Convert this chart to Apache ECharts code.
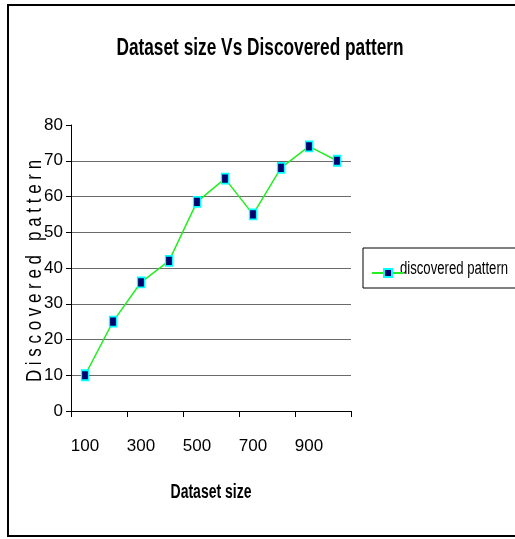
<!DOCTYPE html>
<html>
<head>
<meta charset="utf-8">
<script src="https://cdn.jsdelivr.net/npm/echarts@6/dist/echarts.min.js"></script>
<style>
html,body{margin:0;padding:0;background:#fff;}
#c{width:515px;height:539px;}
</style>
</head>
<body>
<div id="c"></div>
<script>
const categories = ['100','200','300','400','500','600','700','800','900','1000'];
const discovered = [10, 25, 36, 42, 58.5, 65, 55, 68, 74, 70];
const yTicks = [0, 10, 20, 30, 40, 50, 60, 70, 80];
const titleText = 'Dataset size Vs Discovered pattern';
const xName = 'Dataset size';
const yName = 'D i s c o v e r e d   p a t t e r n';
const seriesName = 'discovered pattern';

const FONT = "'Liberation Sans', Arial, sans-serif";
const gridColors = yTicks.map((v, i) => (i === 0 || i === yTicks.length - 1) ? 'rgba(0,0,0,0)' : '#6b6b6b');

const chart = echarts.init(document.getElementById('c'), null, {renderer: 'canvas'});
chart.setOption({
  backgroundColor: '#fff',
  animation: false,
  legend: {
    left: 366, top: 263,
    itemWidth: 32, itemHeight: 10, itemGap: 0,
    formatter: function () { return ''; },
    textStyle: {fontSize: 1},
    data: [seriesName]
  },
  grid: {left: 71, right: 164, top: 125, bottom: 128},
  xAxis: {
    type: 'category',
    data: categories,
    boundaryGap: true,
    axisLine: {lineStyle: {color: '#000', width: 1}},
    axisTick: {show: true, length: 6, inside: false, lineStyle: {color: '#000'}},
    axisLabel: {interval: 1, fontFamily: FONT, fontSize: 17, color: '#000', margin: 27},
    splitLine: {show: false}
  },
  yAxis: {
    type: 'value',
    min: yTicks[0], max: yTicks[yTicks.length - 1], interval: 10,
    axisLine: {show: true, lineStyle: {color: '#000', width: 1}},
    axisTick: {show: true, length: 5, lineStyle: {color: '#000'}},
    axisLabel: {fontFamily: FONT, fontSize: 17, color: '#000', margin: 8},
    splitLine: {show: true, lineStyle: {color: gridColors, width: 1.2}}
  },
  series: [{
    name: seriesName,
    type: 'line',
    data: discovered,
    symbol: 'rect',
    symbolSize: [7, 10],
    lineStyle: {color: '#22ee22', width: 1.5},
    itemStyle: {color: '#00006e', borderColor: '#00ffff', borderWidth: 1.5}
  }],
  graphic: [
    {type: 'rect', shape: {x: 8, y: 5, width: 530, height: 531},
     style: {fill: 'none', stroke: '#000', lineWidth: 2}, z: 10},
    {type: 'rect', shape: {x: 363, y: 248, width: 170, height: 40},
     style: {fill: 'none', stroke: '#000', lineWidth: 1}, z: 10},
    {type: 'text', x: 260, y: 48, scaleX: 0.72,
     style: {text: titleText, font: "bold 24px 'Liberation Sans', Arial, sans-serif",
             fill: '#000', textAlign: 'center', textVerticalAlign: 'middle'}},
    {type: 'text', x: 211, y: 492, scaleX: 0.70,
     style: {text: xName, font: "bold 20px 'Liberation Sans', Arial, sans-serif",
             fill: '#000', textAlign: 'center', textVerticalAlign: 'middle'}},
    {type: 'text', x: 35, y: 271, rotation: Math.PI / 2, scaleX: 0.77,
     style: {text: yName, font: "22px 'Liberation Sans', Arial, sans-serif",
             fill: '#000', textAlign: 'center', textVerticalAlign: 'middle'}},
    {type: 'text', x: 400, y: 269, scaleX: 0.73,
     style: {text: seriesName, font: "18px 'Liberation Sans', Arial, sans-serif",
             fill: '#000', textAlign: 'left', textVerticalAlign: 'middle'}}
  ]
});
</script>
</body>
</html>
